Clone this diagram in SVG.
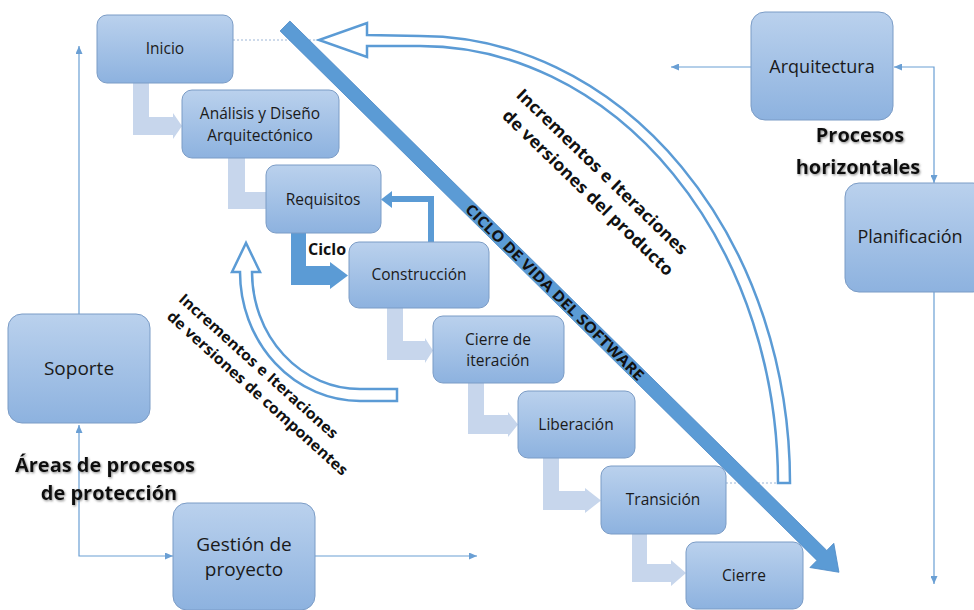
<svg xmlns="http://www.w3.org/2000/svg" width="974" height="610" viewBox="0 0 974 610">
<defs>
  <linearGradient id="boxg" x1="0" y1="0" x2="0" y2="1">
    <stop offset="0" stop-color="#bad1ed"/>
    <stop offset="1" stop-color="#8db2df"/>
  </linearGradient>
  <marker id="ah" viewBox="0 0 8 7" refX="8" refY="3.5" markerWidth="8" markerHeight="7" markerUnits="userSpaceOnUse" orient="auto-start-reverse">
    <path d="M0,0 L8,3.5 L0,7 z" fill="#6a9fd4"/>
  </marker>
  <filter id="sh" x="-10%" y="-20%" width="120%" height="150%">
    <feDropShadow dx="1" dy="1.2" stdDeviation="0.8" flood-color="#777" flood-opacity="0.8"/>
  </filter>
</defs>
<style>
  .box { fill: url(#boxg); stroke: #7b9cc6; stroke-width: 1; }
  .t { font-family: "Open Sans", "Noto Sans", sans-serif; fill: #1a1a1a; text-anchor: middle; }
  .s15 { font-size: 15.5px; }
  .s18 { font-size: 18px; }
  .s19 { font-size: 19px; }
  .lbl { font-family: "Open Sans", "Noto Sans", sans-serif; font-weight: bold; fill: #111; text-anchor: middle; }
  .conn { fill: none; stroke: #6a9fd4; stroke-width: 1.2; }
  .dot { fill: none; stroke: #9db6d6; stroke-width: 1; stroke-dasharray: 2 2; }
  .fat { fill: #c7d6ec; }
  .dark { fill: #5b9bd5; }
  .hollow { fill: #ffffff; stroke: #5b9bd5; stroke-width: 2.5; stroke-linejoin: miter; }
  .rot { font-family: "Open Sans", "Noto Sans", sans-serif; font-weight: bold; fill: #111; text-anchor: middle; }
</style>
<rect width="974" height="610" fill="#ffffff"/>

<g id="connectors">
  <!-- fat bent arrows between stages -->
  <path class="fat" d="M133,83 L149,83 L149,117 L173,117 L173,113 L182,126 L173,139 L173,135 L133,135 Z"/>
  <path class="fat" d="M228,158 L245,158 L245,192 L266,192 L266,209 L228,209 Z"/>
  <path class="dark" d="M291,233 L306,233 L306,266 L330,266 L330,262 L348,275.5 L330,289 L330,285 L291,285 Z"/>
  <path class="fat" d="M387,308 L403,308 L403,341 L425,341 L425,338 L433,350.5 L425,363 L425,360 L387,360 Z"/>
  <path class="fat" d="M468,383 L484,383 L484,415 L508,415 L508,412 L518,424.5 L508,437 L508,434 L468,434 Z"/>
  <path class="fat" d="M543,458 L559,458 L559,491 L585,491 L585,488 L601,500.5 L585,513 L585,510 L543,510 Z"/>
  <path class="fat" d="M632,534 L647,534 L647,564 L671,564 L671,560 L686,573 L671,586 L671,582 L632,582 Z"/>
  <!-- return arrow Construccion -> Requisitos -->
  <path d="M431,242 L431,199 L391,199" fill="none" stroke="#5b9bd5" stroke-width="6"/>
  <path class="dark" d="M392,191 L381,199.5 L392,208 Z"/>

  <!-- thin connectors -->
  <path class="conn" d="M79,314 L79,46" marker-end="url(#ah)"/>
  <path class="conn" d="M79,425 L79,556 L173,556" marker-start="url(#ah)" marker-end="url(#ah)"/>
  <path class="conn" d="M315,556 L477,556" marker-end="url(#ah)"/>
  <path class="conn" d="M751,67 L671,67" marker-end="url(#ah)"/>
  <path class="conn" d="M894,67 L934,67 L934,183" marker-start="url(#ah)" marker-end="url(#ah)"/>
  <path class="conn" d="M934,292 L934,584" marker-end="url(#ah)"/>

  <!-- dotted guides -->
  <path class="dot" d="M233,40 L320,40"/>
  <path class="dot" d="M726,483 L784,483"/>

  <!-- hollow curved arrow: product increments -->
  <path class="hollow" d="M790,483 A370 447 0 0 0 420,36 L367,35 L367,23 L319,40 L367,57 L367,46 L420,46 A358 437 0 0 1 778,483 Z"/>
  <!-- hollow curved arrow: component increments -->
  <path class="hollow" d="M397,401 L360,401 A120 129 0 0 1 240,272 L232,272 L246,243 L260,272 L252,272 A108 117 0 0 0 360,389 L397,389 Z"/>

  <!-- big diagonal arrow: software life cycle -->
  <g transform="translate(285,26) rotate(44.6)">
    <path d="M0,-7 L754,-7 L754,-17 L778,0 L754,17 L754,7 L0,7 Z" fill="#5b9bd5" stroke="#4f8bc8" stroke-width="0.8"/>
    <text class="rot" x="379" y="5.5" font-size="15" textLength="244" lengthAdjust="spacingAndGlyphs" fill="#14233d">CICLO DE VIDA DEL SOFTWARE</text>
  </g>
</g>

<g id="inicio"><rect class="box" x="97" y="15" width="136" height="68" rx="10"/><text class="t s15" x="165" y="54">Inicio</text></g>
<g id="analisis"><rect class="box" x="182" y="90" width="157" height="68" rx="10"/><text class="t s15" x="260" y="119">Análisis y Diseño</text><text class="t s15" x="260" y="141">Arquitectónico</text></g>
<g id="requisitos"><rect class="box" x="266" y="165" width="115" height="68" rx="10"/><text class="t s15" x="323" y="205">Requisitos</text></g>
<g id="construccion"><rect class="box" x="349" y="242" width="140" height="66" rx="10"/><text class="t s15" x="419" y="280">Construcción</text></g>
<g id="cierre-iteracion"><rect class="box" x="433" y="316" width="131" height="67" rx="10"/><text class="t s15" x="498" y="345">Cierre de</text><text class="t s15" x="498" y="366">iteración</text></g>
<g id="liberacion"><rect class="box" x="518" y="391" width="117" height="67" rx="10"/><text class="t s15" x="576" y="430">Liberación</text></g>
<g id="transicion"><rect class="box" x="601" y="466" width="125" height="68" rx="10"/><text class="t s15" x="663" y="505">Transición</text></g>
<g id="cierre"><rect class="box" x="686" y="542" width="117" height="67" rx="10"/><text class="t s15" x="744" y="581">Cierre</text></g>
<g id="arquitectura"><rect class="box" x="751" y="12" width="142" height="108" rx="14"/><text class="t s18" x="822" y="73">Arquitectura</text></g>
<g id="planificacion"><rect class="box" x="845" y="183" width="142" height="109" rx="14"/><text class="t s18" x="910" y="243">Planificación</text></g>
<g id="soporte"><rect class="box" x="8" y="314" width="142" height="109" rx="14"/><text class="t s19" x="79" y="375">Soporte</text></g>
<g id="gestion"><rect class="box" x="173" y="503" width="142" height="107" rx="14"/><text class="t s19" x="244" y="551">Gestión de</text><text class="t s19" x="244" y="576">proyecto</text></g>

<g id="labels">
  <text class="lbl" x="860" y="142" font-size="20" filter="url(#sh)">Procesos</text>
  <text class="lbl" x="858" y="174" font-size="20" filter="url(#sh)">horizontales</text>
  <text class="lbl" x="105" y="472" font-size="20" filter="url(#sh)">Áreas de procesos</text>
  <text class="lbl" x="109" y="500" font-size="20" filter="url(#sh)">de protección</text>
  <text class="lbl" x="327" y="255" font-size="16">Ciclo</text>
  <text class="rot" font-size="17" transform="translate(598,176) rotate(44)" textLength="230" lengthAdjust="spacingAndGlyphs">Incrementos e Iteraciones</text>
  <text class="rot" font-size="17" transform="translate(584,197) rotate(44)" textLength="230" lengthAdjust="spacingAndGlyphs">de versiones del producto</text>
  <text class="rot" font-size="15" transform="translate(255,370) rotate(42)" textLength="208" lengthAdjust="spacingAndGlyphs">Incrementos e Iteraciones</text>
  <text class="rot" font-size="15" transform="translate(254,397) rotate(42)" textLength="237" lengthAdjust="spacingAndGlyphs">de versiones de componentes</text>
</g>
</svg>
